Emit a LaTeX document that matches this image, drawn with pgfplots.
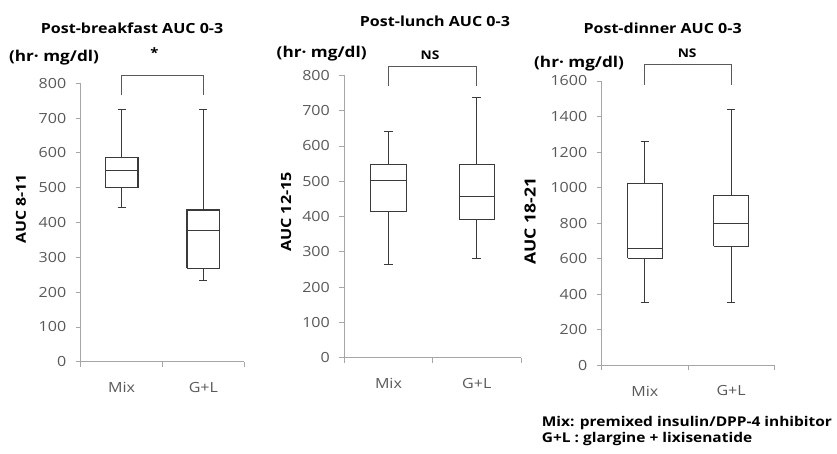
\documentclass[border=0pt]{standalone}
\usepackage{fontspec}
\setmainfont{Open Sans}[FakeStretch=1.15]
\usepackage{pgfplots}
\pgfplotsset{compat=1.18}
\definecolor{axisgray}{HTML}{A6A6A6}
\definecolor{boxgray}{HTML}{3A3A3A}
\definecolor{labelgray}{HTML}{595959}

\tikzset{ylab/.style={font=\bfseries\fontsize{#1}{#1}\selectfont, rotate=90, anchor=center}}

\pgfplotsset{
  every axis title shift=0pt,
  panel/.style={
    scale only axis,
    anchor=south west,
    xmin=0.5, xmax=2.5, ymin=0,
    clip=false,
    unbounded coords=jump,
    axis lines*=left,
    axis line style={axisgray, line width=0.8pt},
    tick align=outside,
    major tick length=5bp,
    tick style={axisgray, line width=0.8pt},
    xtick={0.5,1.5,2.5},
    xticklabels={Mix,G+L},
    x tick label as interval,
    xticklabel style={yshift=-12bp},
    yticklabel style={xshift=-6bp},
    tick label style={font=\fontsize{14}{14}\selectfont, text=labelgray},
    /pgf/number format/assume math mode=true,
    /pgf/number format/1000 sep={},
    title style={font=\bfseries\fontsize{14}{14}\selectfont, anchor=center},
  },
  bx/.style={draw=boxgray, line width=1.1pt, solid, mark=none},
  bracket/.style={draw=labelgray, line width=1.1pt, mark=none},
}

\begin{document}
\begin{tikzpicture}
\useasboundingbox (0bp,0bp) rectangle (837bp,454bp);

% ---- post-breakfast
\begin{axis}[panel,
  at={(80.7bp,92.3bp)}, width=163.6bp, height=278.4bp,
  ymax=800, ytick={0,100,...,800},
  title={Post-breakfast AUC 0-3},
  title style={at={(axis description cs:0.314,1.199)}},
]
% box: Q1 Q3, median, whiskers with caps
\addplot[bx] coordinates {(0.8,501) (1.2,501) (1.2,588) (0.8,588) (0.8,501) (1,nan)
  (0.8,549) (1.2,549) (1,nan) (1,588) (1,724) (1,nan) (0.95,724) (1.05,724) (1,nan)
  (1,501) (1,443) (1,nan) (0.95,443) (1.05,443)};
\addplot[bx] coordinates {(1.8,268) (2.2,268) (2.2,436) (1.8,436) (1.8,268) (2,nan)
  (1.8,378) (2.2,378) (2,nan) (2,436) (2,724) (2,nan) (1.95,724) (2.05,724) (2,nan)
  (2,268) (2,234) (2,nan) (1.95,234) (2.05,234)};
\addplot[bracket] coordinates {(1,765) (1,823) (2,823) (2,765)};
\node[font=\bfseries\fontsize{13}{13}\selectfont] at (axis cs:1.40,887) {*};
\node[font=\bfseries\fontsize{15}{15}\selectfont] at (axis description cs:-0.163,1.094) {(hr· mg/dl)};
\node[ylab=13.8] at (axis description cs:-0.365,0.548) {AUC 8-11};
\end{axis}

% ---- post-lunch
\begin{axis}[panel,
  at={(344.3bp,96.3bp)}, width=176.7bp, height=282.4bp,
  ymax=800, ytick={0,100,...,800},
  title={Post-lunch AUC 0-3},
  title style={at={(axis description cs:0.513,1.190)}},
]
\addplot[bx] coordinates {(0.8,414) (1.2,414) (1.2,548) (0.8,548) (0.8,414) (1,nan)
  (0.8,501) (1.2,501) (1,nan) (1,548) (1,640) (1,nan) (0.95,640) (1.05,640) (1,nan)
  (1,414) (1,265) (1,nan) (0.95,265) (1.05,265)};
\addplot[bx] coordinates {(1.8,392) (2.2,392) (2.2,548) (1.8,548) (1.8,392) (2,nan)
  (1.8,456) (2.2,456) (2,nan) (2,548) (2,736) (2,nan) (1.95,736) (2.05,736) (2,nan)
  (2,392) (2,282) (2,nan) (1.95,282) (2.05,282)};
\addplot[bracket] coordinates {(1,770) (1,824) (2,824) (2,770)};
\node[font=\bfseries\fontsize{12}{12}\selectfont] at (axis cs:1.47,857) {NS};
\node[font=\bfseries\fontsize{15}{15}\selectfont] at (axis description cs:-0.128,1.078) {(hr· mg/dl)};
\node[ylab=14.1] at (axis description cs:-0.33,0.516) {AUC 12-15};
\end{axis}

% ---- post-dinner
\begin{axis}[panel,
  at={(601.7bp,88.7bp)}, width=172.6bp, height=284.3bp,
  ymax=1600, ytick={0,200,...,1600},
  title={Post-dinner AUC 0-3},
  title style={at={(axis description cs:0.353,1.186)}},
]
\addplot[bx] coordinates {(0.8,602) (1.2,602) (1.2,1024) (0.8,1024) (0.8,602) (1,nan)
  (0.8,658) (1.2,658) (1,nan) (1,1024) (1,1257) (1,nan) (0.95,1257) (1.05,1257) (1,nan)
  (1,602) (1,351) (1,nan) (0.95,351) (1.05,351)};
\addplot[bx] coordinates {(1.8,671) (2.2,671) (2.2,958) (1.8,958) (1.8,671) (2,nan)
  (1.8,797) (2.2,797) (2,nan) (2,958) (2,1441) (2,nan) (1.95,1441) (2.05,1441) (2,nan)
  (2,671) (2,351) (2,nan) (1.95,351) (2.05,351)};
\addplot[bracket] coordinates {(1,1577) (1,1692) (2,1692) (2,1577)};
\node[font=\bfseries\fontsize{12}{12}\selectfont] at (axis cs:1.49,1757) {NS};
\node[font=\bfseries\fontsize{15}{15}\selectfont] at (axis description cs:-0.131,1.062) {(hr· mg/dl)};
\node[ylab=15.4] at (axis description cs:-0.415,0.508) {AUC 18-21};
\end{axis}

\node[anchor=base west, inner sep=0pt, font=\bfseries\fontsize{13.5}{13.5}\selectfont] at (541.7bp,28bp) {Mix: premixed insulin/DPP-4 inhibitor};
\node[anchor=base west, inner sep=0pt, font=\bfseries\fontsize{13.5}{13.5}\selectfont] at (541.7bp,12bp) {G+L : glargine + lixisenatide};
\end{tikzpicture}
\end{document}
